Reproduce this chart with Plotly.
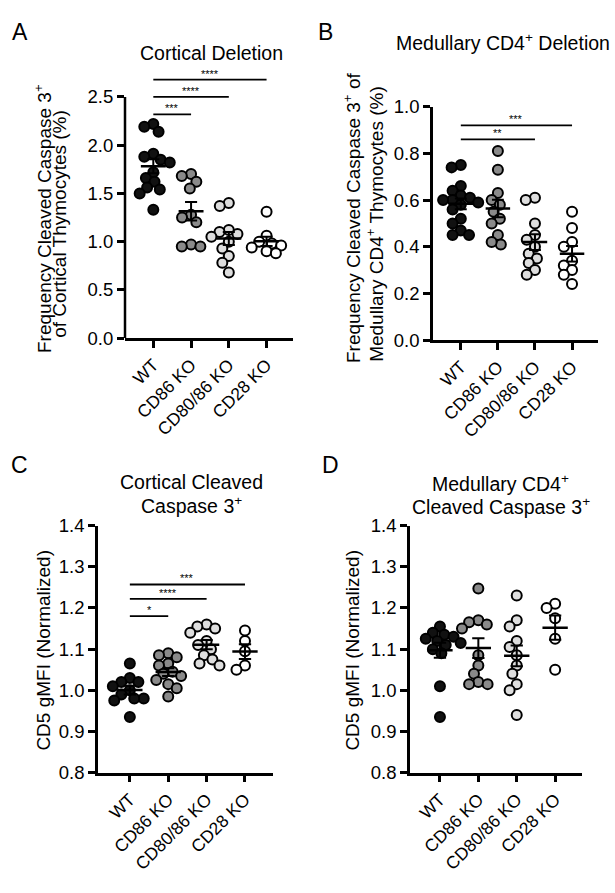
import numpy as np
import plotly.graph_objects as go

categories = ["WT", "CD86 KO", "CD80/86 KO", "CD28 KO"]

# Panel A: Cortical deletion (% cleaved caspase 3+)
a_wt = [2.22, 2.19, 2.14, 1.91, 1.88, 1.85, 1.82, 1.72, 1.66, 1.62, 1.56, 1.54, 1.50, 1.33]
a_cd86 = [1.70, 1.68, 1.62, 1.55, 1.28, 1.25, 1.20, 0.97, 0.95, 0.95]
a_cd8086 = [1.40, 1.37, 1.12, 1.10, 1.08, 1.05, 1.00, 0.93, 0.85, 0.78, 0.68]
a_cd28 = [1.31, 1.06, 1.00, 0.98, 0.96, 0.94, 0.90, 0.88]

# Panel B: Medullary CD4+ deletion
b_wt = [0.75, 0.74, 0.66, 0.64, 0.62, 0.61, 0.60, 0.60, 0.59, 0.58, 0.56, 0.52, 0.50, 0.47, 0.45, 0.45]
b_cd86 = [0.81, 0.73, 0.63, 0.60, 0.58, 0.55, 0.52, 0.50, 0.45, 0.41, 0.42]
b_cd8086 = [0.61, 0.60, 0.50, 0.45, 0.43, 0.40, 0.37, 0.35, 0.33, 0.30, 0.28]
b_cd28 = [0.55, 0.48, 0.42, 0.40, 0.34, 0.32, 0.30, 0.28, 0.24]

# Panel C: CD5 gMFI cortical cleaved caspase 3+
c_wt = [1.065, 1.03, 1.02, 1.02, 1.01, 1.00, 0.99, 0.98, 0.98, 0.975, 0.935]
c_cd86 = [1.09, 1.085, 1.08, 1.065, 1.06, 1.045, 1.04, 1.035, 1.025, 1.015, 1.005, 0.985]
c_cd8086 = [1.16, 1.155, 1.15, 1.14, 1.12, 1.11, 1.10, 1.085, 1.075, 1.065, 1.06]
c_cd28 = [1.145, 1.12, 1.095, 1.06, 1.05]

# Panel D: CD5 gMFI medullary CD4+ cleaved caspase 3+
d_wt = [1.155, 1.14, 1.135, 1.13, 1.125, 1.12, 1.115, 1.11, 1.10, 1.09, 1.01, 0.935]
d_cd86 = [1.247, 1.17, 1.165, 1.16, 1.15, 1.085, 1.06, 1.04, 1.02, 1.015, 1.015]
d_cd8086 = [1.23, 1.17, 1.155, 1.12, 1.105, 1.085, 1.06, 1.04, 1.015, 1.0, 0.94]
d_cd28 = [1.21, 1.20, 1.175, 1.125, 1.05]

# significance comparisons: (from index, to index, bar height, label)
a_sig = [(0, 1, 2.32, "***"), (0, 2, 2.50, "****"), (0, 3, 2.68, "****")]
b_sig = [(0, 2, 0.86, "**"), (0, 3, 0.92, "***")]
c_sig = [(0, 1, 1.18, "*"), (0, 2, 1.222, "****"), (0, 3, 1.257, "***")]

fill_colors = ["#111111", "#8a8a8a", "#dedede", "#ffffff"]

W, H = 615, 893
FONT = "Liberation Sans, Arial, sans-serif"

panels = [
    dict(key="a", data=[a_wt, a_cd86, a_cd8086, a_cd28], xdom=(125, 293), ypx=(335, 88),
         yr=(0, 2.5), ytop=2.72, xr=(-0.75, 3.7), tickvals=[0, 0.5, 1.0, 1.5, 2.0, 2.5], fmt="{:.1f}",
         sig=a_sig),
    dict(key="b", data=[b_wt, b_cd86, b_cd8086, b_cd28], xdom=(433, 598), ypx=(337, 98),
         yr=(0, 1.0), ytop=1.0, xr=(-0.75, 3.7), tickvals=[0, 0.2, 0.4, 0.6, 0.8, 1.0], fmt="{:.1f}",
         sig=b_sig),
    dict(key="c", data=[c_wt, c_cd86, c_cd8086, c_cd28], xdom=(98, 273), ypx=(780, 527),
         yr=(0.8, 1.4), ytop=1.4, xr=(-0.83, 3.73), tickvals=[0.8, 0.9, 1.0, 1.1, 1.2, 1.3, 1.4], fmt="{:.1f}",
         sig=c_sig),
    dict(key="d", data=[d_wt, d_cd86, d_cd8086, d_cd28], xdom=(410, 582), ypx=(780, 527),
         yr=(0.8, 1.4), ytop=1.4, xr=(-0.78, 3.70), tickvals=[0.8, 0.9, 1.0, 1.1, 1.2, 1.3, 1.4], fmt="{:.1f}",
         sig=[]),
]


def beeswarm(vals, px_per_y, px_per_x, diam=9.5):
    """Return x offsets (in category units) so circles don't overlap much."""
    order = np.argsort(vals)[::-1]
    placed = []  # (xpx, ypx)
    offs = np.zeros(len(vals))
    for i in order:
        y = vals[i] * px_per_y
        cands = [0.0]
        for (px, py) in placed:
            dy = abs(py - y)
            if dy < diam:
                dx = np.sqrt(diam ** 2 - dy ** 2)
                cands += [px + dx, px - dx]
        cands.sort(key=lambda c: (abs(c), c))
        for c in cands:
            ok = all((c - px) ** 2 + (y - py) ** 2 >= diam ** 2 - 1e-6 for (px, py) in placed)
            if ok:
                placed.append((c, y))
                offs[i] = c / px_per_x
                break
    return offs


fig = go.Figure()
layout = dict(width=W, height=H, margin=dict(l=0, r=0, t=0, b=0),
              plot_bgcolor="white", paper_bgcolor="white", showlegend=False,
              font=dict(family=FONT, color="black"))
shapes = []
annotations = []

for n, p in enumerate(panels):
    sfx = "" if n == 0 else str(n + 1)
    xa, ya = "x" + sfx, "y" + sfx
    y0px, y1px = p["ypx"]
    ppy = (y0px - y1px) / (p["yr"][1] - p["yr"][0])
    ytop_px = y0px - (p["ytop"] - p["yr"][0]) * ppy
    ydom = [1 - y0px / H, 1 - ytop_px / H]
    xdom = [p["xdom"][0] / W, p["xdom"][1] / W]
    ppx = (p["xdom"][1] - p["xdom"][0]) / (p["xr"][1] - p["xr"][0])

    layout["xaxis" + sfx] = dict(domain=xdom, range=list(p["xr"]), anchor=ya,
                                 tickvals=[0, 1, 2, 3], ticktext=categories, tickangle=-45,
                                 showline=True, linecolor="black", linewidth=2.5,
                                 ticks="outside", ticklen=7, tickwidth=2.5, tickcolor="black",
                                 showgrid=False, zeroline=False,
                                 tickfont=dict(family=FONT, size=17.5, color="black"))
    extended = p["ytop"] > p["yr"][1]
    layout["yaxis" + sfx] = dict(domain=ydom, range=[p["yr"][0], p["ytop"]], anchor=xa,
                                 tickvals=p["tickvals"], ticktext=[p["fmt"].format(v) for v in p["tickvals"]],
                                 showline=not extended, linecolor="black", linewidth=2.5,
                                 ticks="outside", ticklen=7, tickwidth=2.5, tickcolor="black",
                                 showgrid=False, zeroline=False,
                                 tickfont=dict(family=FONT, size=18.5, color="black"))
    if extended:
        shapes.append(dict(type="line", xref=xa + " domain", yref=ya, x0=0, x1=0,
                           y0=p["yr"][0], y1=p["yr"][1], line=dict(color="black", width=2.5)))

    for gi, vals in enumerate(p["data"]):
        vals = np.array(vals, dtype=float)
        offs = beeswarm(vals, ppy, ppx)
        fig.add_trace(go.Scatter(x=gi + offs, y=vals, mode="markers", xaxis=xa, yaxis=ya,
                                 cliponaxis=False,
                                 marker=dict(size=10, color=fill_colors[gi],
                                             line=dict(color="black", width=2))))
        m = vals.mean()
        sem = vals.std(ddof=1) / np.sqrt(len(vals))
        # mean line
        fig.add_trace(go.Scatter(x=[gi - 0.33, gi + 0.33], y=[m, m], mode="lines", xaxis=xa, yaxis=ya,
                                 line=dict(color="black", width=2.5)))
        # SEM whisker
        fig.add_trace(go.Scatter(x=[gi - 0.16, gi + 0.16, None, gi, gi, None, gi - 0.16, gi + 0.16],
                                 y=[m + sem, m + sem, None, m - sem, m + sem, None, m - sem, m - sem],
                                 mode="lines", xaxis=xa, yaxis=ya,
                                 line=dict(color="black", width=2)))

    for (i0, i1, h, lab) in p["sig"]:
        shapes.append(dict(type="line", xref=xa, yref=ya, x0=i0, x1=i1, y0=h, y1=h,
                           line=dict(color="black", width=1.8)))
        annotations.append(dict(x=(i0 + i1) / 2, y=h, xref=xa, yref=ya, text=lab, showarrow=False,
                                yanchor="bottom", yshift=-2, font=dict(family=FONT, size=11, color="black")))

# panel letters
for lab, x, y in [("A", 10, 22), ("B", 316, 22), ("C", 9, 465), ("D", 320, 465)]:
    annotations.append(dict(x=x / W, y=1 - y / H, xref="paper", yref="paper", text=lab, showarrow=False,
                            xanchor="left", yanchor="middle", font=dict(family=FONT, size=23, color="black")))

# panel titles
titles = [
    ("Cortical Deletion", 211, 43),
    ("Medullary CD4<sup>+</sup> Deletion", 503, 32),
    ("Cortical Cleaved", 191, 482),
    ("Caspase 3<sup>+</sup>", 191, 506),
    ("Medullary CD4<sup>+</sup>", 501, 483),
    ("Cleaved Caspase 3<sup>+</sup>", 501, 507),
]
for t, x, y in titles:
    annotations.append(dict(x=x / W, y=1 - y / H, xref="paper", yref="paper", text=t, showarrow=False,
                            xanchor="center", yanchor="middle", font=dict(family=FONT, size=19.5, color="black")))

# y axis titles (rotated)
ytitles = [
    ("Frequency Cleaved Caspase 3<sup>+</sup>", 43, 213),
    ("of Cortical Thymocytes (%)", 60, 218),
    ("Frequency Cleaved Caspase 3<sup>+</sup> of", 352, 212),
    ("Medullary CD4<sup>+</sup> Thymocytes (%)", 375, 218),
    ("CD5 gMFI (Normalized)", 44, 655),
    ("CD5 gMFI (Normalized)", 353, 655),
]
for t, x, y in ytitles:
    annotations.append(dict(x=x / W, y=1 - y / H, xref="paper", yref="paper", text=t, showarrow=False,
                            textangle=-90, xanchor="center", yanchor="middle",
                            font=dict(family=FONT, size=19, color="black")))

layout["shapes"] = shapes
layout["annotations"] = annotations
fig.update_layout(**layout)
fig.write_html("out.html", config={"displayModeBar": False},
               post_script="document.body.style.margin='0px';document.body.style.padding='0px';document.body.style.overflow='hidden';")
